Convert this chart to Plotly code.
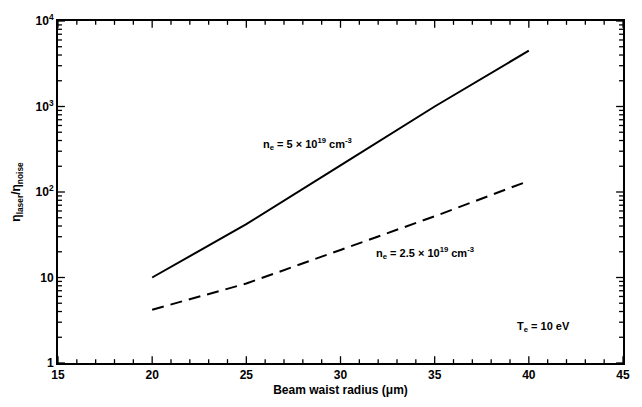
import plotly.graph_objects as go

# Data
radius = [20, 25, 30, 35, 40]
ratio_high = [10, 42, 205, 1000, 4500]      # n_e = 5e19 cm^-3
ratio_low = [4.2, 8.5, 21, 52, 135]         # n_e = 2.5e19 cm^-3

x_ticks = [15, 20, 25, 30, 35, 40, 45]
x_minor = [v for v in range(15, 46) if v % 5 != 0]
y_ticks = [1, 10, 100, 1000, 10000]
y_text = ["1", "10", "10<sup>2</sup>", "10<sup>3</sup>", "10<sup>4</sup>"]
y_minor = [m * d for d in (1, 10, 100, 1000) for m in range(2, 10)]

FONT = "Liberation Sans, Arial, sans-serif"
W, H = 642, 407
ML, MR, MT, MB = 58, 12, 15, 38
PW, PH = W - ML - MR, H - MT - MB
X_RANGE = [15, 45]
Y_DEC = [0, 4]

fig = go.Figure()
fig.add_trace(go.Scatter(x=radius, y=ratio_high, mode="lines",
                         line=dict(color="black", width=2), showlegend=False))
fig.add_trace(go.Scatter(x=radius, y=ratio_low, mode="lines",
                         line=dict(color="black", width=2, dash="12px,7px"), showlegend=False))

# Inside tick marks (mirrored on top/right), derived from the tick arrays
px_per_x = PW / (X_RANGE[1] - X_RANGE[0])
px_per_dec = PH / (Y_DEC[1] - Y_DEC[0])
tx, ty = [], []
for vals, length in ((x_ticks, 7), (x_minor, 4)):
    k = 10 ** (length / px_per_dec)
    for v in vals:
        tx += [v, v, None, v, v, None]
        ty += [10 ** Y_DEC[0], 10 ** Y_DEC[0] * k, None,
               10 ** Y_DEC[1], 10 ** Y_DEC[1] / k, None]
for vals, length in ((y_ticks, 7), (y_minor, 4)):
    d = length / px_per_x
    for v in vals:
        tx += [X_RANGE[0], X_RANGE[0] + d, None, X_RANGE[1], X_RANGE[1] - d, None]
        ty += [v, v, None, v, v, None]
fig.add_trace(go.Scatter(x=tx, y=ty, mode="lines", line=dict(color="black", width=1.3),
                         hoverinfo="skip", showlegend=False, cliponaxis=False))

fig.update_layout(
    width=W, height=H,
    margin=dict(l=ML, r=MR, t=MT, b=MB),
    paper_bgcolor="white", plot_bgcolor="white",
    font=dict(family=FONT, color="black", size=12),
)
fig.update_xaxes(range=X_RANGE, tickvals=x_ticks, ticks="",
                 showline=True, linecolor="black", linewidth=2, mirror=True,
                 showgrid=False, zeroline=False,
                 title=dict(text="<b>Beam waist radius (μm)</b>", standoff=4,
                            font=dict(size=12)),
                 ticktext=["<b>%d</b>" % v for v in x_ticks])
fig.update_yaxes(type="log", range=Y_DEC, tickvals=y_ticks,
                 ticktext=["<b>%s</b>" % t for t in y_text], ticks="",
                 showline=True, linecolor="black", linewidth=2, mirror=True,
                 showgrid=False, zeroline=False,
                 title=dict(text="<b>η<sub>laser</sub>/η<sub>noise</sub></b>", standoff=12,
                            font=dict(size=12)))

fig.add_annotation(x=28.27, y=2.565, xref="x", yref="y",
                   text="<b>n<sub>e</sub> = 5 × 10<sup>19</sup> cm<sup>-3</sup></b>",
                   showarrow=False, font=dict(size=11))
fig.add_annotation(x=34.5, y=1.288, xref="x", yref="y",
                   text="<b>n<sub>e</sub> = 2.5 × 10<sup>19</sup> cm<sup>-3</sup></b>",
                   showarrow=False, font=dict(size=11))
fig.add_annotation(x=40.8, y=0.418, xref="x", yref="y",
                   text="<b>T<sub>e</sub> = 10 eV</b>",
                   showarrow=False, font=dict(size=11))

fig.write_html("out.html")
